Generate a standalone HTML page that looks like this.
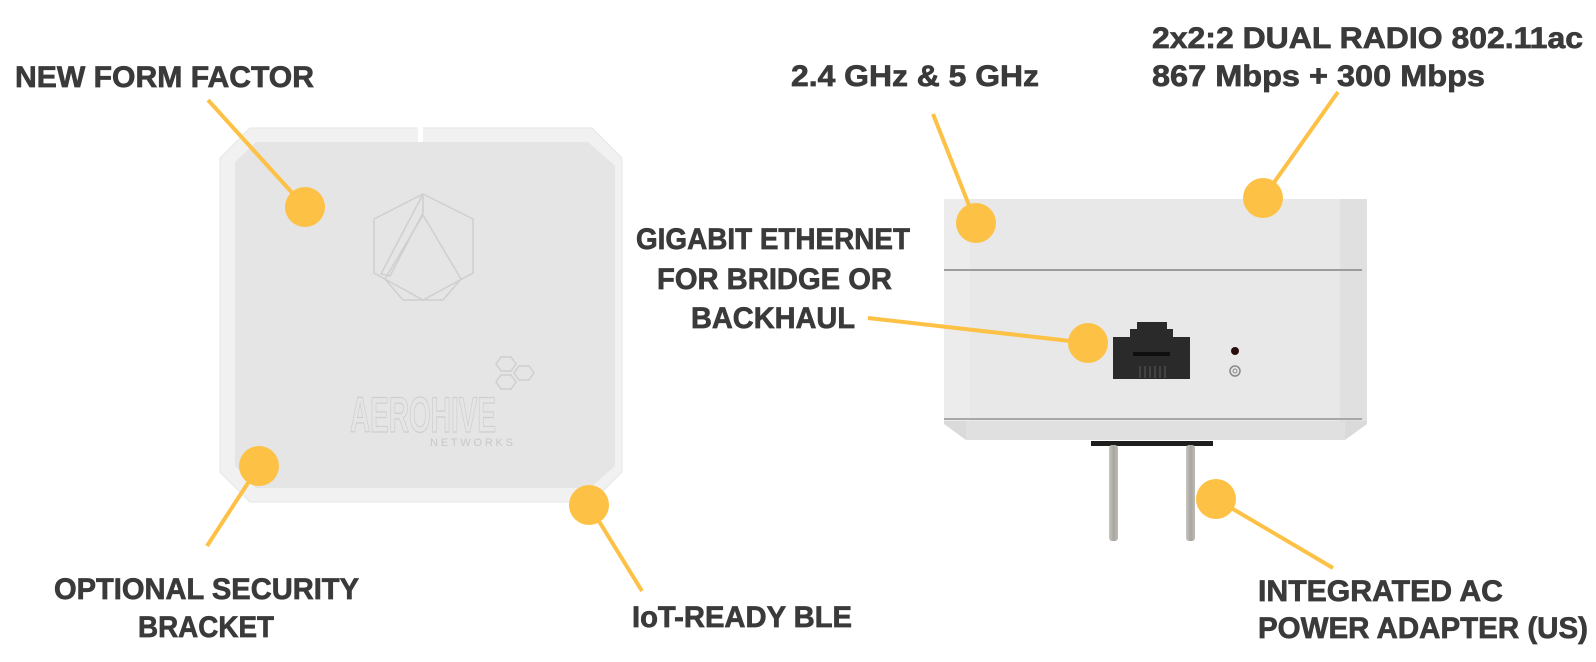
<!DOCTYPE html>
<html><head><meta charset="utf-8"><style>
html,body{margin:0;padding:0;background:#fff;}
svg{display:block;}
text{font-family:"Liberation Sans",sans-serif;font-weight:bold;fill:#3a3a3a;}
.lb{stroke:#3a3a3a;stroke-width:0.7;}
</style></head><body>
<svg width="1596" height="662" viewBox="0 0 1596 662" xmlns="http://www.w3.org/2000/svg">
<defs>
<linearGradient id="prong" x1="0" x2="1" y1="0" y2="0">
<stop offset="0" stop-color="#c9c6c2"/><stop offset="0.5" stop-color="#a9a5a1"/><stop offset="1" stop-color="#bdb9b5"/>
</linearGradient>
</defs>
<!-- LEFT DEVICE -->
<polygon points="250,128 592,128 622,158 622,472 592,502 250,502 220,472 220,158" fill="#f1f1f1" stroke="#e6e6e6" stroke-width="1"/>
<polygon points="256,142 588,142 615,166 615,466 590,488 256,488 235,466 235,162" fill="#e5e5e5"/>
<rect x="418" y="126" width="5" height="16" fill="#fff"/>
<!-- logo -->
<g fill="none" stroke="#cfcfcf" stroke-width="1.5">
<polygon points="423,194 473,219 473,273 423,300 374,273 374,219"/>
<polygon points="423,194 381,274 390,276 423,213"/>
<polygon points="423,215 461,279 443,300 403,300 385,279"/>
<polygon points="501,357 511,357 516,364 511,371 501,371 496,364"/>
<polygon points="519,366 529,366 534,373 529,380 519,380 514,373"/>
<polygon points="501,375 511,375 516,382 511,389 501,389 496,382"/>
</g>
<text x="350" y="432" font-size="50" textLength="146" lengthAdjust="spacingAndGlyphs" style="fill:none;stroke:#cfcfcf;stroke-width:1.2;font-family:'Liberation Sans Narrow','Liberation Sans',sans-serif">AEROHIVE</text>
<text x="430" y="446" font-size="11" textLength="83" lengthAdjust="spacing" style="fill:#c8c8c8;font-weight:normal">NETWORKS</text>

<!-- RIGHT DEVICE -->
<rect x="1091" y="441" width="122" height="5" fill="#1e1e1e"/>
<rect x="1109" y="445" width="9" height="96" rx="3" fill="url(#prong)"/>
<rect x="1186" y="445" width="9" height="96" rx="3" fill="url(#prong)"/>
<polygon points="944,421 1367,421 1367,424 1345,440 966,440 944,424" fill="#dadada"/>
<rect x="966" y="421" width="379" height="19" fill="#e0e0e0"/>
<rect x="944" y="199" width="423" height="222" fill="#e8e8e8"/>
<rect x="944" y="199" width="26" height="222" fill="#ececec"/>
<rect x="1340" y="199" width="27" height="222" fill="#e0e0e0"/>
<rect x="944" y="269" width="418" height="2" fill="#9c9c9c"/>
<rect x="944" y="418" width="418" height="2" fill="#a8a8a8"/>
<!-- RJ45 -->
<rect x="1137" y="322" width="30" height="9" fill="#2a2a2a"/>
<rect x="1130" y="329" width="43" height="9" fill="#2a2a2a"/>
<rect x="1113" y="337" width="77" height="42" fill="#2a2a2a"/>
<rect x="1133" y="352" width="37" height="4" fill="#0f0f0f"/>
<g stroke="#555" stroke-width="1.2">
<line x1="1140" y1="366" x2="1140" y2="378"/><line x1="1145" y1="366" x2="1145" y2="378"/>
<line x1="1150" y1="366" x2="1150" y2="378"/><line x1="1155" y1="366" x2="1155" y2="378"/>
<line x1="1160" y1="366" x2="1160" y2="378"/><line x1="1165" y1="366" x2="1165" y2="378"/>
</g>
<circle cx="1235" cy="351" r="4" fill="#2a0e0e"/>
<circle cx="1235" cy="371" r="5" fill="none" stroke="#888" stroke-width="1.5"/>
<circle cx="1235" cy="371" r="2" fill="none" stroke="#888" stroke-width="1"/>

<!-- CONNECTORS -->
<g stroke="#fcc145" stroke-width="4" stroke-linecap="butt">
<line x1="208" y1="100" x2="305" y2="207"/>
<line x1="259" y1="466" x2="207" y2="546"/>
<line x1="589" y1="505" x2="642" y2="591"/>
<line x1="933" y1="114" x2="976" y2="223"/>
<line x1="1338" y1="92" x2="1263" y2="198"/>
<line x1="868" y1="318" x2="1088" y2="343"/>
<line x1="1216" y1="499" x2="1333" y2="568"/>
</g>
<g fill="#fcc145">
<circle cx="305" cy="207" r="20"/>
<circle cx="259" cy="466" r="20"/>
<circle cx="589" cy="505" r="20"/>
<circle cx="976" cy="223" r="20"/>
<circle cx="1263" cy="198" r="20"/>
<circle cx="1088" cy="343" r="20"/>
<circle cx="1216" cy="499" r="20"/>
</g>

<!-- LABELS -->
<g class="lb">
<text x="15" y="87" font-size="30" textLength="299" lengthAdjust="spacingAndGlyphs">NEW FORM FACTOR</text>
<text x="791" y="86" font-size="30" textLength="248" lengthAdjust="spacingAndGlyphs">2.4 GHz &amp; 5 GHz</text>
<text x="1152" y="48" font-size="30" textLength="431" lengthAdjust="spacingAndGlyphs">2x2:2 DUAL RADIO 802.11ac</text>
<text x="1152" y="86" font-size="30" textLength="333" lengthAdjust="spacingAndGlyphs">867 Mbps + 300 Mbps</text>
<text x="636" y="249" font-size="30" textLength="274" lengthAdjust="spacingAndGlyphs">GIGABIT ETHERNET</text>
<text x="657" y="289" font-size="30" textLength="235" lengthAdjust="spacingAndGlyphs">FOR BRIDGE OR</text>
<text x="691" y="328" font-size="30" textLength="164" lengthAdjust="spacingAndGlyphs">BACKHAUL</text>
<text x="54" y="599" font-size="30" textLength="305" lengthAdjust="spacingAndGlyphs">OPTIONAL SECURITY</text>
<text x="138" y="637" font-size="30" textLength="136" lengthAdjust="spacingAndGlyphs">BRACKET</text>
<text x="632" y="627" font-size="30" textLength="220" lengthAdjust="spacingAndGlyphs">IoT-READY BLE</text>
<text x="1258" y="601" font-size="30" textLength="245" lengthAdjust="spacingAndGlyphs">INTEGRATED AC</text>
<text x="1258" y="638" font-size="30" textLength="330" lengthAdjust="spacingAndGlyphs">POWER ADAPTER (US)</text>
</g>
</svg>
</body></html>
